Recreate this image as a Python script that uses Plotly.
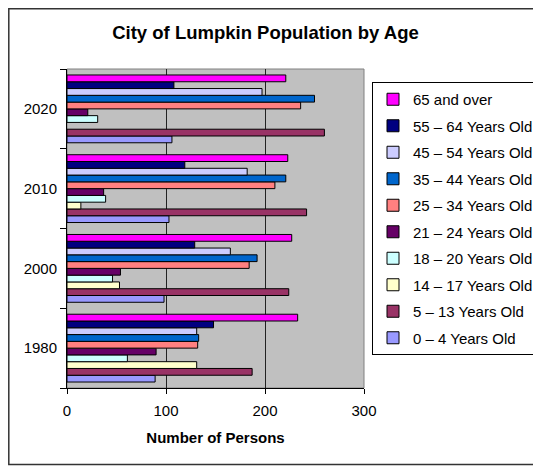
import plotly.graph_objects as go

years = ["1980", "2000", "2010", "2020"]

series_names = [
    "0 – 4 Years Old",
    "5 – 13 Years Old",
    "14 – 17 Years Old",
    "18 – 20 Years Old",
    "21 – 24 Years Old",
    "25 – 34 Years Old",
    "35 – 44 Years Old",
    "45 – 54 Years Old",
    "55 – 64 Years Old",
    "65 and over",
]

age_0_4 = [89, 98, 103, 106]
age_5_13 = [187, 224, 242, 260]
age_14_17 = [131, 53, 14, None]
age_18_20 = [61, 46, 39, 31]
age_21_24 = [90, 54, 37, 21]
age_25_34 = [132, 184, 210, 236]
age_35_44 = [133, 192, 221, 250]
age_45_54 = [131, 165, 182, 197]
age_55_64 = [148, 129, 119, 108]
age_65_over = [233, 227, 223, 221]

series_values = [age_0_4, age_5_13, age_14_17, age_18_20, age_21_24,
                 age_25_34, age_35_44, age_45_54, age_55_64, age_65_over]

colors = ["#9999FF", "#993366", "#FFFFCC", "#CCFFFF", "#660066",
          "#FF8080", "#0066CC", "#CCCCFF", "#000080", "#FF00FF"]

# The page body has an 8px margin, so work in screen pixels and shift.
OFF = 8
W, H = 541 - OFF, 466 - OFF
# plot area in screen pixels
SL, SR, ST, SB = 67, 364, 69, 388
L, R, T, B = SL - OFF, SR - OFF, ST - OFF, SB - OFF

FONT = "Liberation Sans, Arial, sans-serif"

fig = go.Figure()
n = len(series_names)
for i, (name, vals, col) in enumerate(zip(series_names, series_values, colors)):
    fig.add_trace(go.Bar(
        y=years, x=vals, name=name, orientation="h",
        marker=dict(color=col, line=dict(color="black", width=1)),
        legendgroup=name,
        legendrank=n - i,
    ))

def px_x(p):  # screen px -> paper x
    return (p - SL) / (SR - SL)

def px_y(p):  # screen px -> paper y
    return (SB - p) / (SB - ST)

fig.update_layout(
    width=W, height=H,
    margin=dict(l=L, r=W - R, t=T, b=H - B, pad=0, autoexpand=False),
    paper_bgcolor="white",
    plot_bgcolor="#C0C0C0",
    barmode="group",
    bargap=0.15,
    bargroupgap=0,
    font=dict(family=FONT, size=15, color="black"),
    title=dict(text="<b>City of Lumpkin Population by Age</b>",
               x=(265.5 - OFF) / W, xanchor="center",
               y=1 - (33 - OFF) / H, yanchor="middle",
               font=dict(family=FONT, size=18.5, color="black")),
    xaxis=dict(
        range=[0, 300], tickvals=[0, 100, 200, 300],
        showgrid=True, gridcolor="#222222", gridwidth=1,
        showline=True, linecolor="black", linewidth=1,
        ticks="outside", ticklen=5, tickcolor="black",
        tickfont=dict(family=FONT, size=15),
        ticklabelstandoff=4,
        zeroline=False,
        title=dict(text="<b>Number of Persons</b>", standoff=14,
                   font=dict(family=FONT, size=15)),
    ),
    yaxis=dict(
        type="category",
        showline=True, linecolor="black", linewidth=1,
        ticks="outside", ticklen=6, tickcolor="black",
        tickson="boundaries",
        tickfont=dict(family=FONT, size=15),
        showgrid=False,
        ticklabelstandoff=6,
    ),
    legend=dict(
        x=px_x(539), xanchor="right",
        y=px_y(82), yanchor="top",
        bgcolor="white", bordercolor="black", borderwidth=1,
        font=dict(family=FONT, size=15),
        traceorder="grouped",
        tracegroupgap=4,
    ),
    showlegend=True,
)

# plot-area border (gray) and outer chart border
fig.add_shape(type="rect", xref="paper", yref="paper",
              x0=0, x1=1, y0=0, y1=1,
              line=dict(color="#808080", width=1), layer="below")
fig.add_shape(type="rect", xref="paper", yref="paper",
              x0=px_x(8.8), x1=px_x(560), y0=px_y(464.5), y1=px_y(8.8),
              line=dict(color="#333333", width=1.5))

fig.write_html("out.html")
